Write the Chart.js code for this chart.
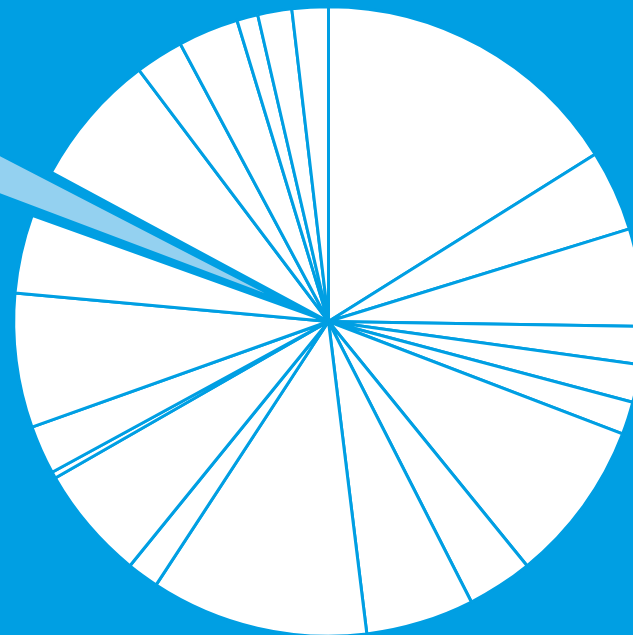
<!DOCTYPE html>
<html>
<head>
<meta charset="utf-8">
<script src="https://cdn.jsdelivr.net/npm/chart.js@4.4.1/dist/chart.umd.min.js"></script>
<style>
  html, body { margin: 0; padding: 0; background: #009FE3; overflow: hidden; }
  #wrap { width: 633px; height: 635px; }
</style>
</head>
<body>
<div id="wrap"><canvas id="c" width="633" height="635"></canvas></div>
<script>
// Slice shares (in degrees of the full circle), clockwise from 12 o'clock
const categories = ["S1","S2","S3","S4","S5","S6","S7","S8","S9","S10","S11","S12",
                    "S13","S14","S15","S16","S17","S18","S19","S20","S21","S22","S23"];
const values = [57.9, 15.0, 18.0, 7.0, 6.95, 6.05, 30.0, 12.1, 20.0, 40.2, 5.9, 21.1,
                1.2, 9.0, 24.8, 14.5, 8.6, 24.7, 8.9, 11.2, 3.9, 6.3, 6.7];
const highlightIndex = 16;

const BG = "#009FE3";
const WHITE = "#FFFFFF";
const LIGHT = "#94D1F0";

const fills = values.map((v, i) => i === highlightIndex ? LIGHT : WHITE);
const offsets = values.map((v, i) => i === highlightIndex ? 176 : 0);

new Chart(document.getElementById("c"), {
  type: "pie",
  data: {
    labels: categories,
    datasets: [{
      data: values,
      backgroundColor: fills,
      borderColor: BG,
      borderWidth: 3,
      offset: offsets,
      hoverOffset: 0
    }]
  },
  options: {
    responsive: false,
    animation: false,
    radius: 314.8,
    layout: { padding: { left: 24, top: 8, right: 0, bottom: 0 } },
    plugins: { legend: { display: false }, tooltip: { enabled: false } },
    events: []
  }
});
</script>
</body>
</html>
